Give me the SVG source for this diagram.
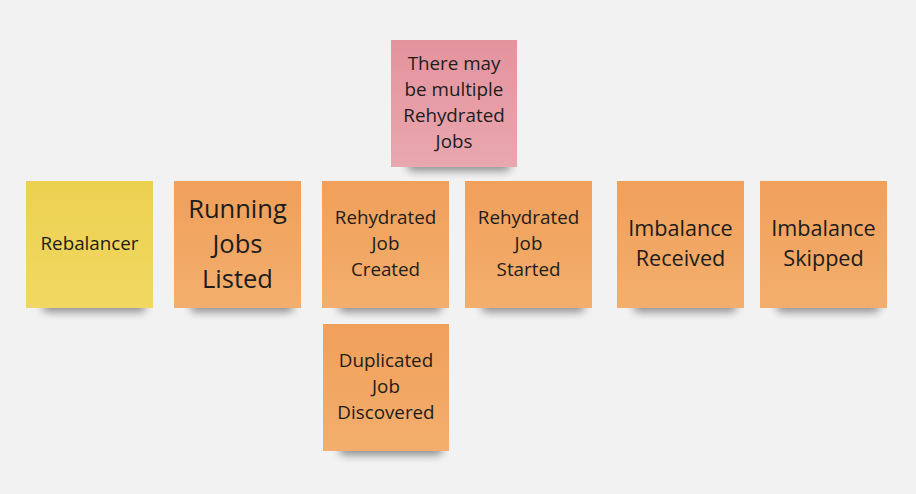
<svg xmlns="http://www.w3.org/2000/svg" width="916" height="494" viewBox="0 0 916 494">
<style>
text{font-family:"Open Sans","Noto Sans",sans-serif;fill:#1c1c1c;text-anchor:middle}
.s{font-size:18.8px}.m{font-size:21.6px}.l{font-size:25.5px}
</style>
<defs>
<linearGradient id="go" x1="0" y1="0" x2="0" y2="1"><stop offset="0" stop-color="#F0A05A"/><stop offset="1" stop-color="#F3AE6D"/></linearGradient>
<linearGradient id="gy" x1="0" y1="0" x2="0" y2="1"><stop offset="0" stop-color="#ECD150"/><stop offset="1" stop-color="#F0D862"/></linearGradient>
<linearGradient id="gp" x1="0" y1="0" x2="0" y2="1"><stop offset="0" stop-color="#E4939D"/><stop offset="1" stop-color="#E9A7AF"/></linearGradient>
<filter id="sh" x="-30%" y="-100%" width="160%" height="300%"><feGaussianBlur stdDeviation="4"/></filter>
<g id="shadow"><rect x="16" y="119" width="104" height="12" rx="6" fill="#000" opacity="0.42" filter="url(#sh)"/></g>
</defs>
<rect width="916" height="494" fill="#F2F2F2"/>
<g id="connectors"/>
<g id="n1"><use href="#shadow" x="26" y="181"/><rect x="26" y="181" width="127" height="127" fill="url(#gy)"/><text class="s" x="89.5" y="249.5">Rebalancer</text></g>
<g id="n2"><use href="#shadow" x="174" y="181"/><rect x="174" y="181" width="127" height="127" fill="url(#go)"/><text class="l" x="237.5" y="218">Running</text><text class="l" x="237.5" y="253">Jobs</text><text class="l" x="237.5" y="288">Listed</text></g>
<g id="n3"><use href="#shadow" x="391" y="40"/><rect x="391" y="40" width="126" height="127" fill="url(#gp)"/><text class="s" x="454" y="69.5">There may</text><text class="s" x="454" y="95.5">be multiple</text><text class="s" x="454" y="121.5">Rehydrated</text><text class="s" x="454" y="147.5">Jobs</text></g>
<g id="n4"><use href="#shadow" x="322" y="181"/><rect x="322" y="181" width="127" height="127" fill="url(#go)"/><text class="s" x="385.5" y="223.5">Rehydrated</text><text class="s" x="385.5" y="249.5">Job</text><text class="s" x="385.5" y="275.5">Created</text></g>
<g id="n5"><use href="#shadow" x="465" y="181"/><rect x="465" y="181" width="127" height="127" fill="url(#go)"/><text class="s" x="528.5" y="223.5">Rehydrated</text><text class="s" x="528.5" y="249.5">Job</text><text class="s" x="528.5" y="275.5">Started</text></g>
<g id="n6"><use href="#shadow" x="617" y="181"/><rect x="617" y="181" width="127" height="127" fill="url(#go)"/><text class="m" x="680.5" y="235.5">Imbalance</text><text class="m" x="680.5" y="265.5">Received</text></g>
<g id="n7"><use href="#shadow" x="760" y="181"/><rect x="760" y="181" width="127" height="127" fill="url(#go)"/><text class="m" x="823.5" y="235.5">Imbalance</text><text class="m" x="823.5" y="265.5">Skipped</text></g>
<g id="n8"><use href="#shadow" x="323" y="324"/><rect x="323" y="324" width="126" height="127" fill="url(#go)"/><text class="s" x="386" y="366.5">Duplicated</text><text class="s" x="386" y="392.5">Job</text><text class="s" x="386" y="418.5">Discovered</text></g>
</svg>
